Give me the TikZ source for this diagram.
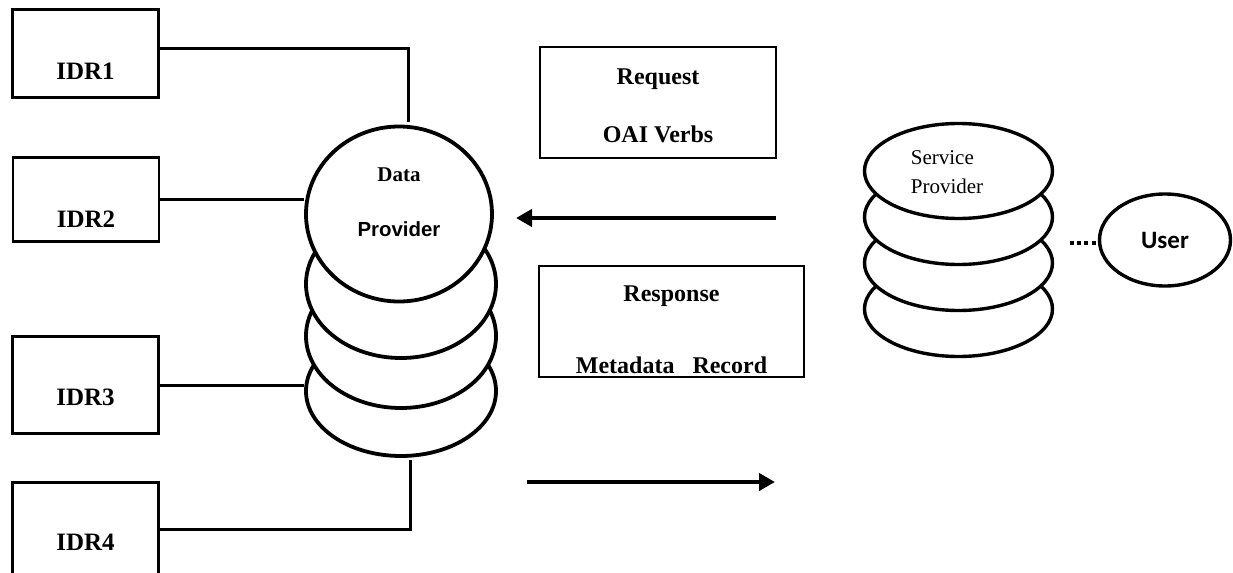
\documentclass[tikz,border=0pt]{standalone}
\usepackage{fontspec}
\setmainfont{Liberation Serif}
\setsansfont{Liberation Sans}
\newfontfamily\userfont{Carlito}
\usetikzlibrary{arrows.meta,shapes.geometric}

\begin{document}
\begin{tikzpicture}[x=0.5pt,y=-0.5pt,
  >={Triangle[length=8pt,width=8.5pt]},
  idrbox/.style={draw,line width=1.2pt,minimum width=73pt,inner sep=0pt},
  idrtext/.style={font=\fontsize{12.5}{15}\selectfont\bfseries},
  msgbox/.style={draw,line width=1.2pt,minimum height=55.5pt,inner sep=0pt},
  msgtext/.style={align=center,font=\fontsize{12}{14.5}\selectfont\bfseries},
  dpdisk/.style={draw,ellipse,fill=white,line width=1.9pt,minimum width=95pt,inner sep=0pt},
  spdisk/.style={draw,ellipse,fill=white,line width=1.7pt,minimum width=94pt,
    minimum height=47.5pt,inner sep=0pt},
  wire/.style={line width=1.5pt},
  flow/.style={->,line width=2pt}]
\useasboundingbox (0,0) rectangle (1233,573);

% repositories
\node[idrbox,minimum height=44pt,label={[idrtext,yshift=-9pt]center:IDR1}] (idr1) at (85.5,53.5) {};
\node[idrbox,minimum height=42pt,label={[idrtext,yshift=-9.75pt]center:IDR2}] (idr2) at (86,199.5) {};
\node[idrbox,minimum height=48.5pt,label={[idrtext,yshift=-6pt]center:IDR3}] (idr3) at (85.5,385) {};
\node[idrbox,minimum height=46.5pt,label={[idrtext,yshift=-6.5pt]center:IDR4}] (idr4) at (85.5,529) {};

% data provider stack
\node[dpdisk,minimum height=65pt] (dp4) at (401,391) {};
\node[dpdisk,minimum height=72pt] (dp3) at (401,336) {};
\node[dpdisk,minimum height=74pt] (dp2) at (401,284) {};
\node[dpdisk,minimum width=93pt,minimum height=87.5pt,
  label={[align=center,yshift=5.75pt,font=\fontsize{10.5}{12.5}\selectfont]center:{\bfseries Data}\\[15pt]%
    {\fontsize{10.2}{12.5}\selectfont\sffamily\bfseries Provider}}] (dp) at (399,214) {};

\draw[wire] ([yshift=2.75pt]idr1.east) -| ([xshift=4.5pt,yshift=1.5pt]dp.north);
\draw[wire] (idr2.east) -- (idr2.east -| dp.west);
\draw[wire] (idr3.east) -- (idr3.east -| dp4.west);
\draw[wire] (idr4.east) -| ([xshift=4.5pt,yshift=-1pt]dp4.south);

% messages
\node[msgbox,minimum width=118pt,
  label={[msgtext,yshift=-1.75pt]center:Request\\[14.5pt]OAI Verbs}] (req) at (658,102.5) {};
\node[msgbox,minimum width=132.5pt,
  label={[msgtext,yshift=-4pt]center:Response\\[21.5pt]Metadata\ \ \ Record}] (resp) at (671.5,321.5) {};

\coordinate (reqstart) at (776,218);
\coordinate (reqend) at (516,218);
\coordinate (respstart) at (527,482);
\coordinate (respend) at (775,482);
\draw[flow] (reqstart) -- (reqend);
\draw[flow] (respstart) -- (respend);

% service provider stack
\node[spdisk] (sp4) at (958.5,309) {};
\node[spdisk] (sp3) at (958.5,263) {};
\node[spdisk] (sp2) at (958.5,217) {};
\node[spdisk,label={[align=left,xshift=-5.75pt,yshift=-0.75pt,
  font=\fontsize{10.5}{14.5}\selectfont]center:Service\\Provider}] (sp) at (958.5,171) {};

% user
\node[draw,ellipse,line width=1.7pt,minimum width=65.5pt,minimum height=46pt,inner sep=0pt,
  font=\userfont\fontsize{12.5}{15}\selectfont\bfseries] (user) at (1165,240) {User};
\coordinate (dots) at (1070,243);
\draw[line width=2pt,dash pattern=on 2pt off 1.6pt] (dots) -- (dots -| user.west);
\end{tikzpicture}
\end{document}
